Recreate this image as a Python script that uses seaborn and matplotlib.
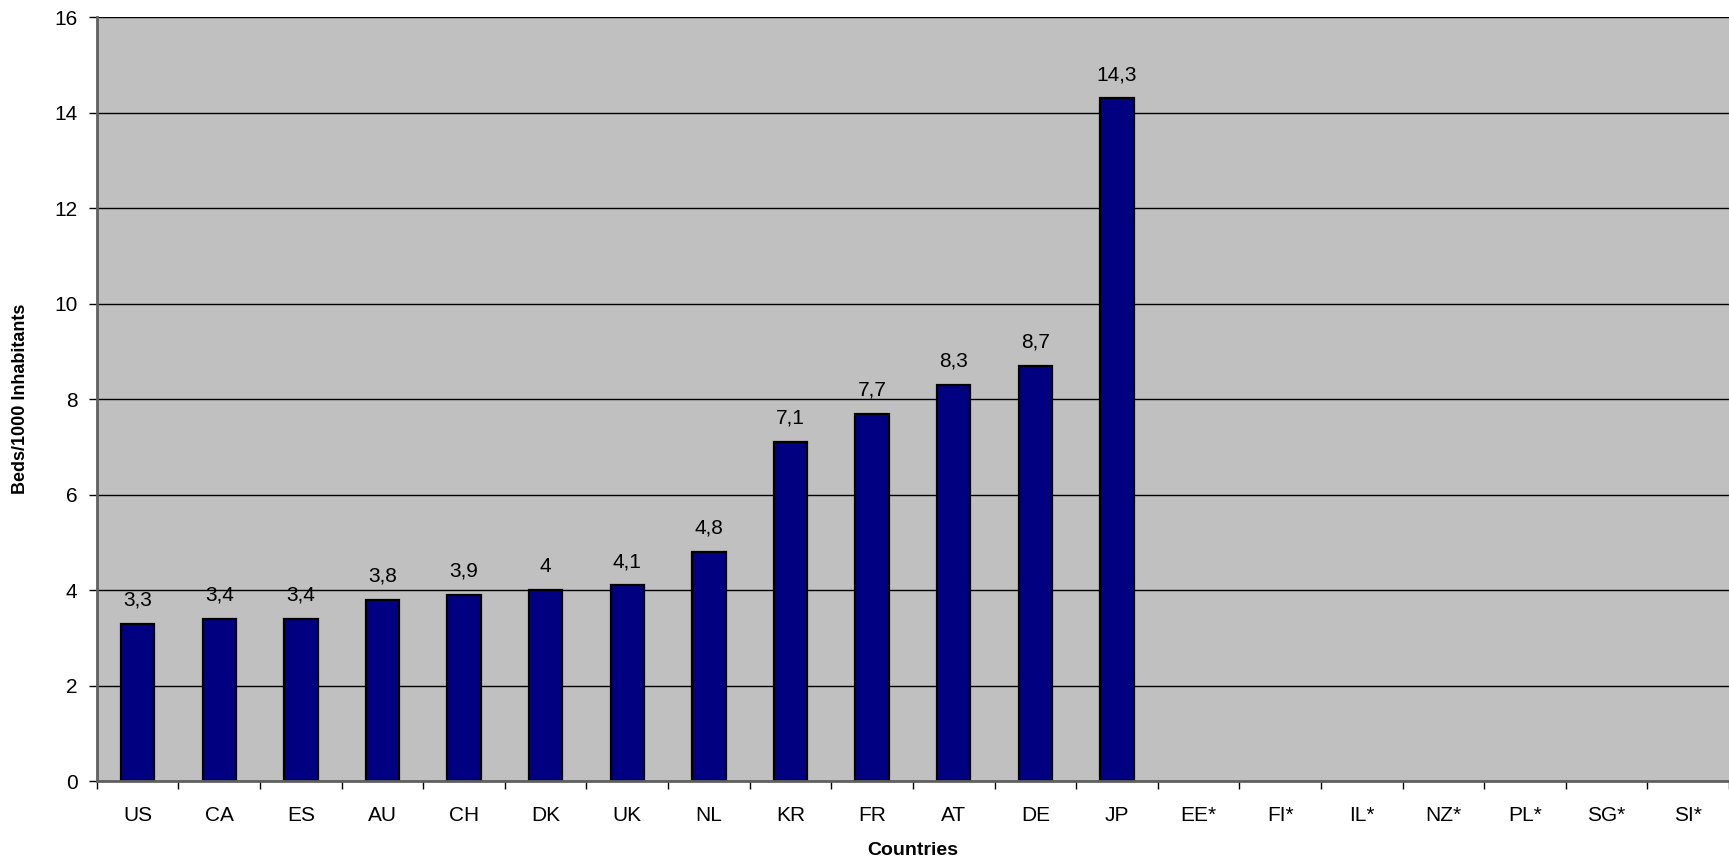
import numpy as np
import pandas as pd
import seaborn as sns
import matplotlib.pyplot as plt

countries = ["US", "CA", "ES", "AU", "CH", "DK", "UK", "NL", "KR", "FR", "AT", "DE", "JP",
             "EE*", "FI*", "IL*", "NZ*", "PL*", "SG*", "SI*"]
beds = [3.3, 3.4, 3.4, 3.8, 3.9, 4.0, 4.1, 4.8, 7.1, 7.7, 8.3, 8.7, 14.3,
        np.nan, np.nan, np.nan, np.nan, np.nan, np.nan, np.nan]

df = pd.DataFrame({"country": countries, "beds": beds})

sns.set_style("white")
plt.rcParams["font.family"] = ["Liberation Sans", "DejaVu Sans"]
plt.rcParams["text.color"] = "black"
plt.rcParams["axes.labelcolor"] = "black"
plt.rcParams["xtick.color"] = "black"
plt.rcParams["ytick.color"] = "black"

fig = plt.figure(figsize=(17.29, 8.65), dpi=100)
ax = fig.add_axes([0.056, 0.097, 0.944, 0.883])
ax.set_facecolor("#c0c0c0")

sns.barplot(data=df, x="country", y="beds", order=countries, color="#000080",
            edgecolor="black", linewidth=1.6, width=0.41, saturation=1, ax=ax)

for i, v in enumerate(beds):
    if not np.isnan(v):
        txt = f"{v:g}".replace(".", ",")
        ax.text(i, v + 0.3, txt, ha="center", va="bottom", fontsize=15)

ax.set_ylim(0, 16)
ax.set_xlim(-0.5, len(countries) - 0.5)
ax.set_yticks(range(0, 17, 2))
ax.yaxis.grid(True, color="black", linewidth=1)
ax.set_axisbelow(True)

ax.set_xticks(np.arange(len(countries)))
ax.set_xticklabels(countries)
ax.set_xticks(np.arange(-0.5, len(countries)), minor=True)
ax.tick_params(axis="x", which="major", bottom=True, length=0, pad=18, labelsize=15)
ax.tick_params(axis="x", which="minor", bottom=True, length=6, width=1, direction="out")
ax.tick_params(axis="y", left=True, length=6, width=1, direction="out", labelsize=15, pad=8)

for s in ["top", "right"]:
    ax.spines[s].set_visible(False)
ax.spines["left"].set_color("#606060")
ax.spines["left"].set_linewidth(2)
ax.spines["bottom"].set_color("#606060")
ax.spines["bottom"].set_linewidth(2)

ax.set_xlabel("Countries", fontsize=14, fontweight="bold", labelpad=12)
ax.set_ylabel("Beds/1000 Inhabitants", fontsize=13, fontweight="bold", labelpad=18)

plt.savefig("out.png", dpi=100)
